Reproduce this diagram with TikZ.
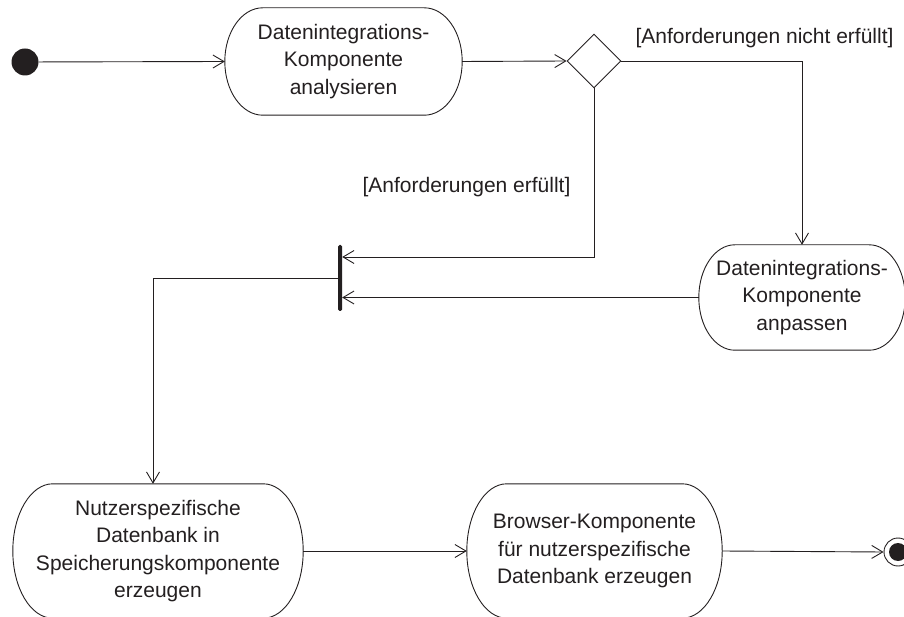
\documentclass[tikz,border=0pt]{standalone}
\usepackage{fontspec}
\setmainfont{Liberation Sans}
\usetikzlibrary{arrows.meta,shapes.geometric,calc}

\definecolor{ink}{RGB}{35,31,32}

\tikzset{
  flow/.style={draw=ink, line width=0.9pt, -{Straight Barb[length=11pt,width=13pt,line width=0.9pt]}},
  actbox/.style={shape=rectangle, draw=none, inner sep=0pt, align=center,
    text=ink, font=\fontsize{21}{27.5}\selectfont},
  guard/.style={text=ink, font=\fontsize{21}{27}\selectfont, inner sep=0pt},
  outline/.style={draw=ink, line width=0.9pt},
}

% activity outline: straight top and bottom, elliptic left and right ends
\newcommand\actoutline[2]{%
  \draw[outline] let \p1=(#1.north west), \p2=(#1.south east), \n1={(\y1-\y2)/2} in
    ({\x1+#2pt},\y1) -- ({\x2-#2pt},\y1)
    arc[start angle=90, end angle=-90, x radius=#2pt, y radius=\n1]
    -- ({\x1+#2pt},\y2)
    arc[start angle=270, end angle=90, x radius=#2pt, y radius=\n1] -- cycle;}

\begin{document}
\begin{tikzpicture}[x=1pt, y=1pt]
  \useasboundingbox (0,0) rectangle (904,616);
  \clip (0,0) rectangle (904,616);

  % initial and final nodes
  \node[circle, fill=ink, minimum size=27pt, inner sep=0pt] (start) at (25,554) {};
  \node[circle, draw=ink, line width=0.9pt, minimum size=28pt, inner sep=0pt] (final) at (898,64) {};
  \fill[ink] (final.center) circle[radius=9pt];

  % activities
  \node[actbox, minimum width=237pt, minimum height=107pt] (analyse) at (343.5,554.5)
    {Datenintegrations-\\Komponente\\analysieren};
  \node[actbox, minimum width=206pt, minimum height=105pt] (adapt) at (802,318.5)
    {Datenintegrations-\\Komponente\\anpassen};
  \node[actbox, minimum width=290pt, minimum height=134pt] (userdb) at (158,65)
    {Nutzerspezifische\\Datenbank in\\Speicherungskomponente\\erzeugen};
  \node[actbox, minimum width=255pt, minimum height=134pt] (browser) at (594.5,65)
    {Browser-Komponente\\für nutzerspezifische\\Datenbank erzeugen};
  \actoutline{analyse}{38}
  \actoutline{adapt}{36}
  \actoutline{userdb}{40}
  \actoutline{browser}{40}

  % decision and join
  \node[diamond, aspect=1, draw=ink, line width=0.9pt, minimum size=54pt, inner sep=0pt] (decide) at (594,555) {};
  \node[rectangle, fill=ink, minimum width=4pt, minimum height=66pt, inner sep=0pt, rounded corners=1.5pt] (join) at (340,338) {};

  % guards
  \node[guard] (gno) at (764.5,578) {[Anforderungen nicht erfüllt]};
  \node[guard] (gyes) at (466.5,429) {[Anforderungen erfüllt]};

  % control flows
  \draw[flow] (start) -- (analyse.west);
  \draw[flow] (analyse.east) -- (decide.west);
  \draw[flow] (decide.east) -| (adapt.north);
  \draw[flow] (decide.south) |- ([yshift=21pt]join.east);
  \draw[flow] (adapt.west) -- (adapt.west -| join.east);
  \draw[flow] (join.west) -| ([xshift=-5pt]userdb.north);
  \draw[flow] (userdb.east) -- (browser.west);
  \draw[flow] (browser.east) -- (final.west);
\end{tikzpicture}
\end{document}
